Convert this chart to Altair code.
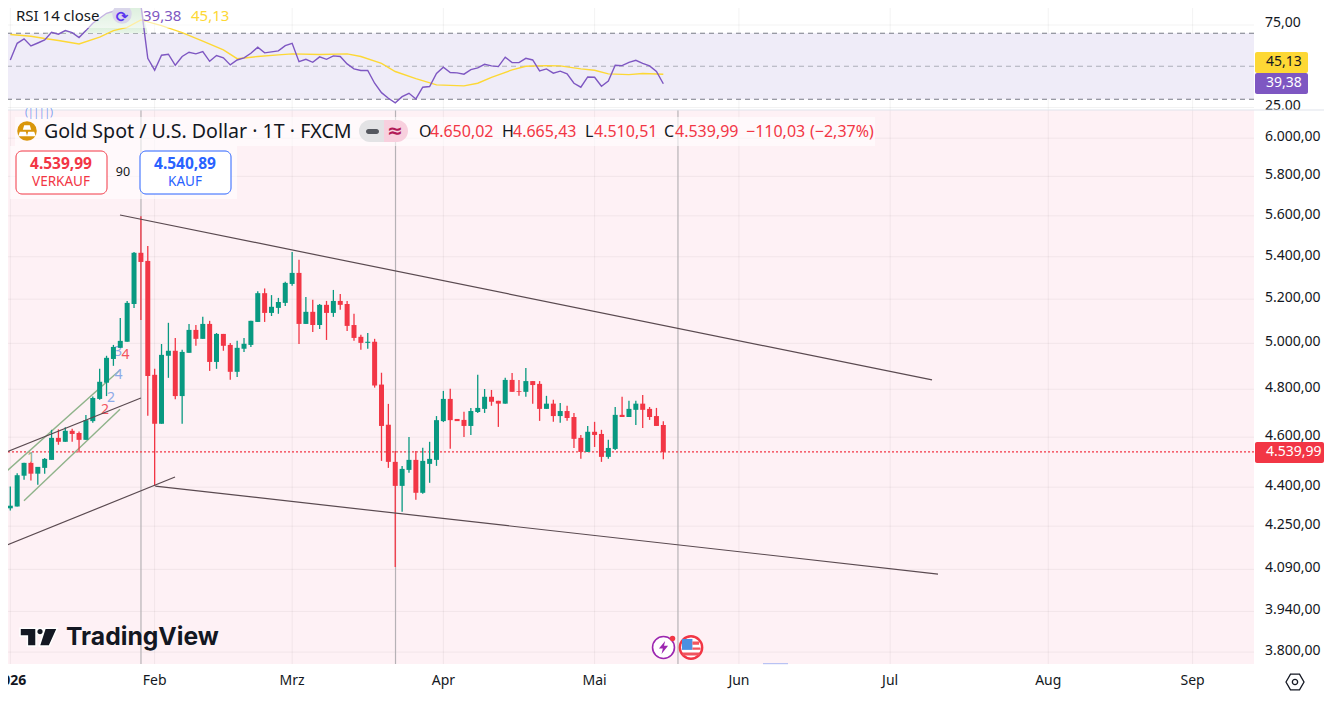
import altair as alt
import pandas as pd

FONT = "Noto Sans"
RED = "#f23645"
GREEN = "#089981"
BLUE = "#2962ff"
PURPLE = "#7e57c2"
YELLOW = "#fdd835"
INK = "#131722"

opens = [4318,4325,4445,4496,4453,4476,4508,4597,4581,4626,4617,4589,4666,4759,4828,4931,4980,5007,5178,5419,
         5380,4862,4655,4945,4967,4771,4958,5060,5020,5087,4918,5042,4993,4875,4976,4993,5096,5228,5137,5160,
         5183,5271,5323,5087,5142,5082,5174,5137,5192,5178,5082,5029,5002,5007,4820,4651,4500,4405,4468,4508,
         4378,4492,4508,4666,4759,4675,4671,4646,4704,4717,4768,4751,4739,4840,4793,4789,4835,4823,4717,4739,
         4687,4708,4683,4597,4540,4622,4613,4520,4552,4692,4683,4713,4739,4717,4687,4650.02]
highs = [4403,4455,4496,4500,4480,4516,4630,4632,4641,4634,4623,4691,4769,4888,4945,4993,5114,5192,5423,5598,
         5452,4888,4997,5092,5024,4971,5087,5082,5119,5101,5046,5042,5002,5011,5024,5101,5237,5250,5219,5206,
         5281,5423,5385,5210,5197,5178,5192,5243,5224,5192,5133,5038,5046,5020,4871,4738,4544,4484,4601,4544,
         4557,4581,4687,4793,4802,4675,4705,4721,4862,4801,4797,4751,4849,4870,4840,4892,4835,4835,4772,4755,
         4742,4730,4700,4609,4646,4663,4630,4589,4725,4768,4751,4751,4776,4725,4721,4665.43]
lows = [4310,4325,4429,4426,4409,4453,4508,4569,4581,4581,4538,4589,4659,4755,4771,4901,4980,5007,5160,5105,
        4688,4405,4655,4849,4758,4655,4958,4989,5020,4879,4888,4967,4841,4853,4962,4984,5096,5096,5123,5133,
        5169,5262,4997,5087,5051,5064,5015,5119,5151,5055,5011,4971,4976,4807,4504,4476,4099,4305,4457,4351,
        4374,4417,4484,4662,4553,4666,4601,4609,4700,4700,4730,4642,4739,4789,4772,4768,4739,4667,4717,4663,
        4659,4667,4556,4512,4540,4560,4500,4512,4548,4683,4683,4650,4638,4671,4646,4510.51]
closes = [4328,4447,4496,4453,4480,4512,4597,4581,4626,4613,4589,4670,4763,4832,4936,4984,5011,5183,5419,5375,
          4857,4655,4949,4967,4771,4962,5060,5020,5087,4918,5042,4989,4875,4980,4998,5101,5228,5137,5165,5187,
          5276,5323,5087,5142,5082,5174,5137,5192,5174,5078,5024,5002,5007,4816,4646,4500,4405,4472,4508,4378,
          4504,4512,4670,4759,4670,4666,4646,4708,4721,4768,4747,4739,4840,4789,4789,4835,4818,4717,4739,4687,
          4708,4679,4593,4540,4622,4609,4520,4556,4692,4683,4717,4739,4713,4683,4646,4539.99]

rsi_values = [53.8,63.9,66.6,62.3,64.1,66.0,70.6,69.4,71.6,70.4,67.4,71.6,76.1,79.1,82.1,83.3,84.1,86.6,90.2,87.2,
              54.8,47.6,56.7,57.3,50.6,55.9,58.5,57.5,58.9,53.0,56.5,55.1,50.8,53.8,55.1,57.9,61.5,58.1,58.7,59.3,
              62.5,63.9,52.8,54.2,52.4,55.7,54.2,56.3,55.9,51.4,48.4,47.4,47.4,39.7,34.0,30.6,27.8,31.6,33.6,30.2,
              37.3,37.7,45.6,49.4,46.2,46.0,45.2,48.0,49.0,51.2,50.2,49.8,55.5,52.2,52.2,54.8,53.8,47.2,48.4,45.8,
              47.0,45.4,39.7,37.3,43.5,43.3,37.9,41.1,50.6,50.4,52.4,53.6,51.8,50.2,46.8,39.38]
ma_index = [0,3,5,7,10,13,15,17,19,22,25,28,31,33,36,39,41,45,49,51,54,56,59,62,66,68,70,73,75,78,80,83,85,87,90,92,95]
ma_values = [69.2,68.2,66.8,65.6,63.5,67.6,71.6,73.6,78.1,74.6,70.4,65.2,59.9,54.6,55.9,56.9,57.5,57.1,57.5,55.9,
             51.8,46.8,42.5,38.7,38.1,39.7,43.3,47.8,50.0,50.4,50.2,48.4,47.6,45.4,44.9,45.6,45.13]

price_ticks = [6000,5800,5600,5400,5200,5000,4800,4600,4400,4250,4090,3940,3800]
price_labels = ["6.000,00","5.800,00","5.600,00","5.400,00","5.200,00","5.000,00","4.800,00",
                "4.600,00","4.400,00","4.250,00","4.090,00","3.940,00","3.800,00"]
rsi_ticks = [75,25]
rsi_labels = ["75,00","25,00"]
month_pos = [0,21,41,63,85,106,128,151,172]
month_names = ["2026","Feb","Mrz","Apr","Mai","Jun","Jul","Aug","Sep"]
marker_pos = [19.01,56.04,97.13]

trend_id = ["up","up","lo","lo","a","a","b","b"]
trend_i = [15.96,134.09,21.09,134.96,-0.77,23.96,-0.77,19.0]
trend_p = [5604,4840,4404,4073,4176,4440,4537,4763]
chan_id = ["u","u","l","l"]
chan_i = [-0.77,15.96,1.99,15.96]
chan_p = [4457,4883,4347,4715]
wave_i = [3.0,13.78,14.65,15.67,16.76,15.74]
wave_p = [4515,4712,4763,4962,4948,4861]
wave_t = ["1","2","2","3","4","4"]
wave_c = ["#8bb38b","#f2545f","#8eaae8","#8eaae8","#f2545f","#8eaae8"]

candles = pd.DataFrame({"i": range(len(opens)), "o": opens, "h": highs, "l": lows, "c": closes})
candles["d"] = ["up" if c >= o else "down" for o, c in zip(opens, closes)]
rsi_df = pd.DataFrame({"i": range(len(rsi_values)), "v": rsi_values})
rsi_df["top"] = rsi_df["v"].clip(lower=70)
ma_df = pd.DataFrame({"i": ma_index, "v": ma_values})
dummy = pd.DataFrame({"a": [0]})

W, H = 1246, 656
xs = alt.Scale(domain=[-0.335, 180.93], nice=False, zero=False, padding=0)
ys_p = alt.Scale(type="log", domain=[3760, 6152.3], range=[656, 102], nice=False, zero=False)
ys_r = alt.Scale(domain=[24.7, 85.3], range=[100, 0], nice=False, zero=False)

X = lambda f="i": alt.X(f"{f}:Q", scale=xs, axis=None)
YP = lambda f: alt.Y(f"{f}:Q", scale=ys_p, axis=None)
YR = lambda f: alt.Y(f"{f}:Q", scale=ys_r, axis=None)

def rx(v): return alt.value(v - 8)
def ry(v): return alt.value(v - 8)

def box(x0, x1, y0, y1, fill, opacity=1.0, stroke=None, radius=None, **kw):
    args = dict(fill=fill, opacity=opacity)
    if stroke:
        args.update(stroke=stroke, strokeWidth=1)
    if radius:
        args.update(cornerRadius=radius)
    args.update(kw)
    return alt.Chart(dummy).mark_rect(**args).encode(x=rx(x0), x2=rx(x1), y=ry(y0), y2=ry(y1))

def label(t, x, y, size=14, color=INK, align="left", weight="normal", font=FONT):
    return alt.Chart(dummy).mark_text(align=align, baseline="middle", fontSize=size, color=color,
                                      fontWeight=weight, font=font).encode(
        x=rx(x), y=ry(y), text=alt.value(t))

def glyph(shape, x, y, size, fill=None, stroke=None, sw=0):
    args = dict(shape=shape, size=size, opacity=1)
    if fill:
        args.update(filled=True, fill=fill)
    else:
        args.update(filled=False, fill="transparent")
    if stroke:
        args.update(stroke=stroke, strokeWidth=sw)
    else:
        args.update(strokeWidth=0)
    return alt.Chart(dummy).mark_point(**args).encode(x=rx(x), y=ry(y))

GRID = dict(color="#000000", opacity=0.05, strokeWidth=1)
TICK = dict(align="left", baseline="middle", fontSize=14, font=FONT, color=INK)

pink = box(5, 1254, 110, 664, "#fef1f5")
month_df = pd.DataFrame({"i": month_pos, "t": month_names})
month_layer = alt.layer(
    alt.Chart(month_df).mark_rule(**GRID).encode(x=X()),
    alt.Chart(month_df.iloc[1:]).mark_text(align="center", baseline="middle", fontSize=14, font=FONT, color=INK).encode(
        x=X(), y=ry(681), text="t:N"),
    alt.Chart(month_df.iloc[:1]).mark_text(align="center", baseline="middle", fontSize=14, font=FONT, color=INK, fontWeight="bold").encode(
        x=X(), y=ry(681), text="t:N"),
)

rsi_tick_df = pd.DataFrame({"v": rsi_ticks, "t": rsi_labels})
rsi_layer = alt.layer(
    alt.Chart(pd.DataFrame({"a": [30], "b": [70]})).mark_rect(fill="#efecf8").encode(
        x=alt.value(0), x2=alt.value(W), y=YR("b"), y2=alt.Y2("a:Q")),
    alt.Chart(rsi_tick_df).mark_rule(**GRID).encode(y=YR("v")),
    alt.Chart(rsi_tick_df).mark_text(dy=-1.5, **TICK).encode(x=rx(1265), y=YR("v"), text="t:N"),
    alt.Chart(pd.DataFrame({"v": [70, 30]})).mark_rule(color="#787b86", strokeDash=[5, 4], strokeWidth=1).encode(y=YR("v")),
    alt.Chart(pd.DataFrame({"v": [50]})).mark_rule(color="#787b86", opacity=0.55, strokeDash=[5, 4], strokeWidth=1).encode(y=YR("v")),
    alt.Chart(rsi_df.iloc[5:21]).mark_area(
        line=False,
        color=alt.Gradient(gradient="linear", x1=0, x2=0, y1=0, y2=1,
                           stops=[alt.GradientStop(color="#a5d6a7", offset=0),
                                  alt.GradientStop(color="#e8f5e9", offset=1)])
    ).transform_calculate(base="70").encode(x=X(), y=YR("top"), y2=alt.Y2("base:Q")),
    alt.Chart(ma_df).mark_line(color=YELLOW, strokeWidth=1.4).encode(x=X(), y=YR("v")),
    alt.Chart(rsi_df).mark_line(color=PURPLE, strokeWidth=1.4).encode(x=X(), y=YR("v")),
)

price_tick_df = pd.DataFrame({"v": price_ticks, "t": price_labels})
color = alt.Color("d:N", scale=alt.Scale(domain=["up", "down"], range=[GREEN, RED]), legend=None)
price_layer = alt.layer(
    alt.Chart(price_tick_df).mark_rule(**GRID).encode(y=YP("v")),
    alt.Chart(price_tick_df).mark_text(dy=-1, **TICK).encode(x=rx(1265), y=YP("v"), text="t:N"),
    alt.Chart(pd.DataFrame({"i": marker_pos, "a": 6152, "b": 3760})).mark_rule(color="#b6b2b6", strokeWidth=1.2).encode(
        x=X(), y=YP("a"), y2=alt.Y2("b:Q")),
    alt.Chart(pd.DataFrame({"v": [closes[-1]]})).mark_rule(color=RED, strokeDash=[2, 2], strokeWidth=1.1).encode(y=YP("v")),
    alt.Chart(pd.DataFrame({"g": chan_id, "i": chan_i, "p": chan_p})).mark_line(color="#8fb38a", strokeWidth=1.4).encode(
        x=X(), y=YP("p"), detail="g:N"),
    alt.Chart(pd.DataFrame({"i": wave_i, "p": wave_p, "t": wave_t, "c": wave_c})).mark_text(fontSize=14, font=FONT).encode(
        x=X(), y=YP("p"), text="t:N", color=alt.Color("c:N", scale=None)),
    alt.Chart(candles).mark_rule(strokeWidth=1.3).encode(x=X(), y=YP("l"), y2=alt.Y2("h:Q"), color=color),
    alt.Chart(candles).mark_bar(width=5, cornerRadius=0).encode(x=X(), y=YP("o"), y2=alt.Y2("c:Q"), color=color),
    alt.Chart(pd.DataFrame({"g": trend_id, "i": trend_i, "p": trend_p})).mark_line(color="#5a4a50", strokeWidth=1.2).encode(
        x=X(), y=YP("p"), detail="g:N"),
)

TV_LOGO = ("M-1,-.48 H-.143 V.464 H-.607 V-.07 H-1 Z "
           "M-.11,-.30 a.18,.18 0 1,0 .36,0 a.18,.18 0 1,0 -.36,0 Z "
           "M.34,-.48 H1 L.57,.464 H.03 Z")
BARS = ("M-.28,-.58 H.28 L.42,-.12 H-.42 Z M-.72,.08 H-.12 L.02,.52 H-.88 Z M.12,.08 H.72 L.88,.52 H-.02 Z")
BOLT = "M.25,-1 L-.7,.15 H-.1 L-.3,1 L.7,-.25 H.08 Z"
HEX = "M-1,0 L-.5,-.87 L.5,-.87 L1,0 L.5,.87 L-.5,.87 Z"
FLAG_BLUE = "M-.95,-.9 H.15 V.25 H-.95 Z"
FLAG_RED = "M.15,-.62 H.85 V-.3 H.15 Z M.15,0 H1 V.25 H.15 Z M-.9,.52 H.9 V.85 H-.9 Z"

overlay = alt.layer(
    box(1254, 1332, 110, 124, "#ffffff"),
    box(5, 1332, 109.5, 110.5, "#e0e3eb"),
    box(763, 788, 663, 664.2, "#8aa4f2", opacity=0.6),
    box(13, 240, 8, 28, "#ffffff", opacity=0.55),
    box(15, 875, 117, 146, "#ffffff", opacity=0.6),
    box(10, 237, 146, 199, "#ffffff", opacity=0.6),
    label("RSI 14 close", 16, 16, 15),
    alt.Chart(dummy).mark_point(filled=True, fill="#d9d6ea", size=380, opacity=1, strokeWidth=0).encode(x=rx(122), y=ry(14)),
    label("⟳", 122, 17, 15, "#5b35f0", "center", "bold", "DejaVu Sans"),
    label("39,38", 143, 16, 15, PURPLE),
    label("45,13", 191, 16, 15, YELLOW),
    label("(||||)", 39, 113, 10, "#7b9bf0", "center"),
    alt.Chart(dummy).mark_point(filled=True, fill="#d9960b", size=380, opacity=1, strokeWidth=0).encode(x=rx(27), y=ry(131)),
    glyph(BARS, 27, 131, 400, fill="#ffffff"),
    label("Gold Spot / U.S. Dollar · 1T · FXCM", 44, 132, 19.6),
    box(359, 384, 120, 142, "#e3e3e5", cornerRadiusTopLeft=11, cornerRadiusBottomLeft=11),
    box(384, 408, 120, 142, "#f8d0de", cornerRadiusTopRight=11, cornerRadiusBottomRight=11),
    box(366, 379, 129, 134, "#55585f", radius=2.5),
    label("≈", 395, 131, 19, "#b21a58", "center", "bold", "DejaVu Sans"),
    label("O", 419, 132, 16),
    label("4.650,02", 430, 132, 16, RED),
    label("H", 502, 132, 16),
    label("4.665,43", 513, 132, 16, RED),
    label("L", 585, 132, 16),
    label("4.510,51", 594, 132, 16, RED),
    label("C", 664, 132, 16),
    label("4.539,99", 675, 132, 16, RED),
    label("−110,03", 746, 132, 16, RED),
    label("(−2,37%)", 810, 132, 16, RED),
    box(16, 107, 151, 194, "#ffffff", stroke=RED, radius=6),
    label("4.539,99", 61, 164, 15.5, RED, "center", "bold"),
    label("VERKAUF", 61, 182, 13.5, RED, "center"),
    label("90", 123, 172, 12.5, INK, "center"),
    box(140, 231, 151, 194, "#ffffff", stroke=BLUE, radius=6),
    label("4.540,89", 185, 164, 15.5, BLUE, "center", "bold"),
    label("KAUF", 185, 182, 13.5, BLUE, "center"),
    box(1255, 1308, 52, 73, YELLOW, radius=2),
    label("45,13", 1266, 62, 14, INK),
    box(1255, 1308, 73, 94, PURPLE, radius=2),
    label("39,38", 1266, 83, 14, "#ffffff"),
    box(1255, 1324, 442, 463, RED, radius=2),
    label("4.539,99", 1266, 452, 14, "#ffffff"),
    glyph(TV_LOGO, 38.7, 637.3, 1393, fill="#131722", stroke="#ffffff", sw=1.5),
    label("TradingView", 66, 638, 24.7, "#131722", "left", "bold", "Inter"),
    alt.Chart(dummy).mark_point(filled=True, fill="#ffffff", stroke="#9c27b0", strokeWidth=1.6, size=480, opacity=1).encode(x=rx(663.5), y=ry(647.5)),
    glyph(BOLT, 663.5, 647.5, 170, fill="#9c27b0"),
    alt.Chart(dummy).mark_point(filled=True, fill=RED, size=30, opacity=1, strokeWidth=0).encode(x=rx(672.5), y=ry(638.5)),
    alt.Chart(dummy).mark_point(filled=True, fill="#ffffff", stroke=RED, strokeWidth=2.4, size=500, opacity=1).encode(x=rx(691), y=ry(647.5)),
    glyph(FLAG_BLUE, 691, 647.5, 360, fill="#4a90e2"),
    glyph(FLAG_RED, 691, 647.5, 360, fill="#f0555f"),
    glyph(HEX, 1295, 682, 324, stroke=INK, sw=1.3),
    alt.Chart(dummy).mark_point(filled=False, stroke=INK, strokeWidth=1.3, size=28, opacity=1).encode(x=rx(1295), y=ry(682)),
)

chart = alt.layer(pink, month_layer, rsi_layer, price_layer, overlay).resolve_scale(y="independent").properties(
    width=W, height=H,
    autosize=alt.AutoSizeParams(type="none"),
    padding={"left": 0, "top": 0, "right": 70, "bottom": 30},
    background="#ffffff",
).configure_view(stroke=None)

chart.save("out.html", embed_options={"renderer": "svg", "actions": False})
